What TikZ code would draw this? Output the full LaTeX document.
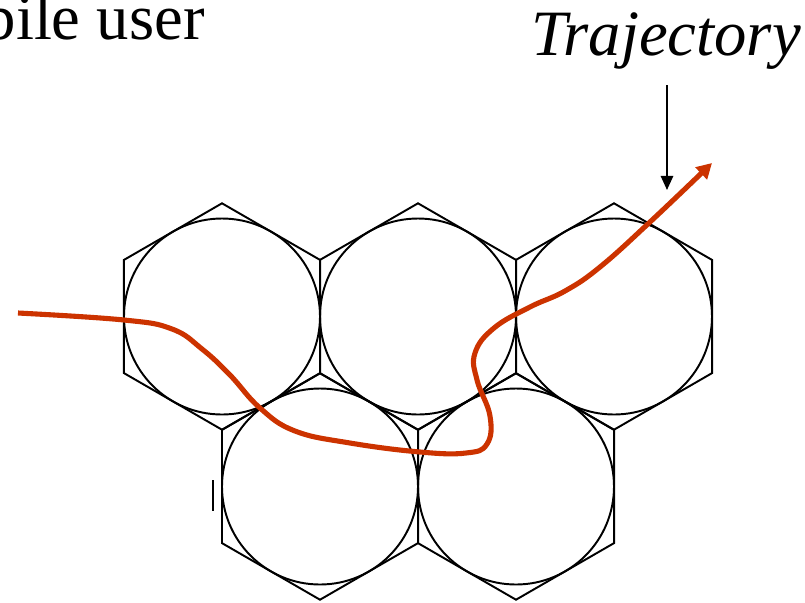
\documentclass[tikz,border=0pt]{standalone}
\usepackage{fontspec}
\setmainfont{Liberation Serif}
\usepackage{tikz}
\usetikzlibrary{arrows.meta,positioning}
\definecolor{trajred}{RGB}{204,51,0}

\begin{document}
\begin{tikzpicture}[
	cell/.style={line width=0.55pt},
	label/.style={font=\fontsize{18.4}{22}\selectfont, inner sep=0pt}]
	
	\useasboundingbox (0,0) rectangle (8.05,6.02);
	
	\foreach \n/\cx/\cy in {ca/2.22/2.855, cb/4.18/2.855, cc/6.14/2.855, cd/3.20/1.155, ce/5.16/1.155}
	{
		\coordinate (\n) at (\cx,\cy);
		\draw[cell] (\n) circle (0.98);
		\draw[cell] (\n) +(90:1.132) -- +(150:1.132) -- +(210:1.132) -- +(270:1.132) -- +(330:1.132) -- +(30:1.132) -- cycle;
	}
	
	\draw[cell] (2.13,1.22) -- (2.13,0.91);
	
	\node[label, anchor=base west] (user) at (-0.17,5.63) {bile user};
	
	\node[label, anchor=base] (traj) at (6.66,5.47) {\itshape Trajectory};
	\coordinate (trajtip) at (6.67,4.12);
	\draw[cell, -{Triangle[length=4pt,width=3.5pt]}] (6.67,5.17) -- (trajtip);
	
	\draw[trajred, line width=1.45pt, -{Triangle[length=4.3pt,width=4.6pt]}]
	plot[smooth, tension=0.7] coordinates {(0.18,2.89) (1.24,2.82) (1.72,2.73) (2.02,2.53) (2.30,2.27) (2.60,1.94) (2.95,1.71) (3.50,1.59) (4.20,1.50) (4.66,1.49) (4.87,1.58) (4.90,1.86) (4.77,2.22) (4.75,2.49) (4.94,2.74) (5.30,2.95) (5.65,3.11) (6.00,3.35) (6.50,3.80) (7.12,4.39)};
	
\end{tikzpicture}
\end{document}
